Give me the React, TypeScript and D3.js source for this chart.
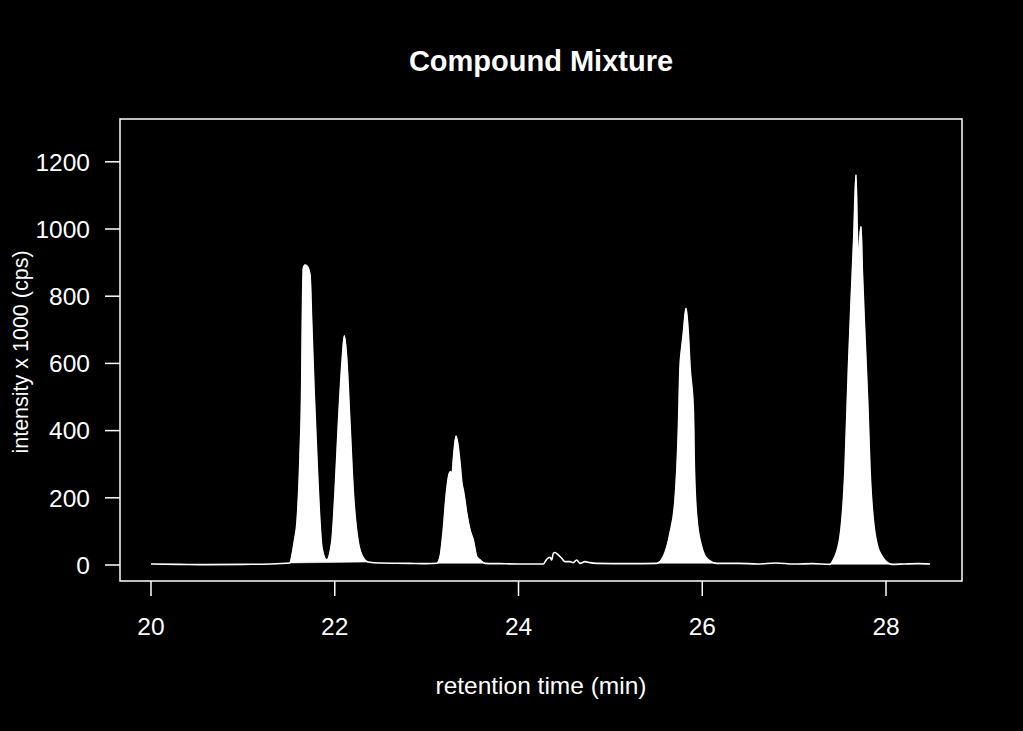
import { useEffect, useRef } from "react";
import * as d3 from "d3";

// retention time (min) and intensity x 1000 (cps)
const times = [
  20.0, 20.3, 20.6, 21.0, 21.3, 21.513,
  21.535, 21.562, 21.589, 21.622, 21.64, 21.647, 21.658, 21.676, 21.698, 21.731, 21.749, 21.774, 21.804, 21.839, 21.861, 21.912,
  21.967, 22.003, 22.039, 22.082, 22.104, 22.13, 22.166, 22.202, 22.256, 22.311, 22.362,
  22.5, 22.8, 23.0,
  23.11, 23.146, 23.181, 23.211, 23.247, 23.262, 23.276, 23.29, 23.32, 23.341, 23.363, 23.385, 23.399, 23.436, 23.472, 23.508, 23.545, 23.581, 23.635,
  23.8, 24.0, 24.2,
  24.27, 24.307, 24.343, 24.361, 24.379, 24.397, 24.433, 24.47, 24.506, 24.561, 24.596, 24.633, 24.669, 24.724, 24.778, 24.851,
  25.2, 25.504,
  25.576, 25.649, 25.703, 25.739, 25.758, 25.776, 25.794, 25.823, 25.848, 25.867, 25.903, 25.914, 25.94, 25.994, 26.066, 26.157,
  26.4, 26.6, 26.8, 27.0, 27.2, 27.39,
  27.426, 27.499, 27.553, 27.59, 27.619, 27.649, 27.673, 27.687, 27.703, 27.717, 27.728, 27.742, 27.771, 27.801, 27.826, 27.862, 27.935, 28.062,
  28.2, 28.35, 28.48,
];
const intensity = [
  3, 2, 1, 2, 3, 6,
  30, 74, 128, 327, 527, 723, 884, 893, 890, 863, 723, 527, 327, 128, 51, 15,
  68, 217, 417, 616, 682, 616, 417, 217, 68, 21, 9,
  6, 5, 4,
  5, 25, 104, 203, 273, 278, 265, 312, 384, 357, 304, 241, 223, 155, 104, 74, 25, 15, 5,
  4, 3, 3,
  3, 17, 23, 15, 35, 37, 30, 20, 10, 10, 7, 15, 5, 10, 7, 5,
  4, 5,
  25, 95, 193, 393, 590, 646, 690, 764, 690, 589, 461, 292, 143, 54, 15, 5,
  5, 3, 6, 3, 4, 2,
  15, 84, 283, 580, 780, 977, 1161, 997, 899, 982, 1007, 878, 679, 482, 283, 134, 36, 2,
  3, 4, 3,
];

// integration windows of the filled peaks
const peakStarts = [21.513, 23.11, 25.504, 27.39];
const peakEnds = [22.362, 23.635, 26.157, 28.062];

const xTicks = [20, 22, 24, 26, 28];
const yTicks = [0, 200, 400, 600, 800, 1000, 1200];

const W = 1023;
const H = 731;
const font = "'Liberation Sans', Arial, Helvetica, sans-serif";

export default function App() {
  const ref = useRef<SVGSVGElement>(null);

  useEffect(() => {
    const left = 120, right = 962, top = 119, bottom = 581;
    const svg = d3.select(ref.current).html(null);

    svg.append("rect").attr("width", W).attr("height", H).attr("fill", "#000");

    const x = d3.scaleLinear().domain([19.6626, 28.827]).range([left, right]);
    const y = d3.scaleLinear().domain([-47.6, 1327.4]).range([bottom, top]);

    const pts = times.map((t, i) => [t, intensity[i]] as [number, number]);

    const line = d3.line<[number, number]>()
      .x((d) => x(d[0]))
      .y((d) => y(d[1]))
      .curve(d3.curveMonotoneX);

    // filled peaks
    peakStarts.forEach((s, i) => {
      const seg = pts.filter((d) => d[0] >= s - 1e-6 && d[0] <= peakEnds[i] + 1e-6);
      svg.append("path")
        .attr("d", line(seg) + "Z")
        .attr("fill", "#fff")
        .attr("stroke", "#fff")
        .attr("stroke-width", 0.5);
    });

    // trace
    svg.append("path")
      .datum(pts)
      .attr("d", line)
      .attr("fill", "none")
      .attr("stroke", "#fff")
      .attr("stroke-width", 1.6)
      .attr("stroke-linejoin", "round");

    // frame
    svg.append("rect")
      .attr("x", left).attr("y", top)
      .attr("width", right - left).attr("height", bottom - top)
      .attr("fill", "none").attr("stroke", "#fff").attr("stroke-width", 1.5);

    // x axis
    const gx = svg.append("g");
    xTicks.forEach((t) => {
      gx.append("line")
        .attr("x1", x(t)).attr("x2", x(t))
        .attr("y1", bottom).attr("y2", bottom + 15)
        .attr("stroke", "#fff").attr("stroke-width", 1.5);
      gx.append("text")
        .attr("x", x(t)).attr("y", 635)
        .attr("text-anchor", "middle")
        .attr("fill", "#fff").attr("font-size", 24.5).attr("font-family", font)
        .text(t);
    });

    // y axis
    const gy = svg.append("g");
    yTicks.forEach((v) => {
      gy.append("line")
        .attr("x1", left - 15).attr("x2", left)
        .attr("y1", y(v)).attr("y2", y(v))
        .attr("stroke", "#fff").attr("stroke-width", 1.5);
      gy.append("text")
        .attr("x", 90).attr("y", y(v))
        .attr("dy", "0.36em")
        .attr("text-anchor", "end")
        .attr("fill", "#fff").attr("font-size", 24.5).attr("font-family", font)
        .text(v);
    });

    // titles
    svg.append("text")
      .attr("x", (left + right) / 2).attr("y", 71)
      .attr("text-anchor", "middle")
      .attr("fill", "#fff").attr("font-size", 29).attr("font-weight", "bold").attr("font-family", font)
      .text("Compound Mixture");

    svg.append("text")
      .attr("x", (left + right) / 2).attr("y", 694)
      .attr("text-anchor", "middle")
      .attr("fill", "#fff").attr("font-size", 24.5).attr("font-family", font)
      .text("retention time (min)");

    svg.append("text")
      .attr("transform", `translate(28,352) rotate(-90)`)
      .attr("text-anchor", "middle")
      .attr("fill", "#fff").attr("font-size", 21.5).attr("font-family", font)
      .text("intensity x 1000 (cps)");
  }, []);

  return (
    <div style={{ position: "fixed", left: 0, top: 0, width: W, height: H, background: "#000" }}>
      <svg ref={ref} width={W} height={H} style={{ display: "block" }} />
    </div>
  );
}
